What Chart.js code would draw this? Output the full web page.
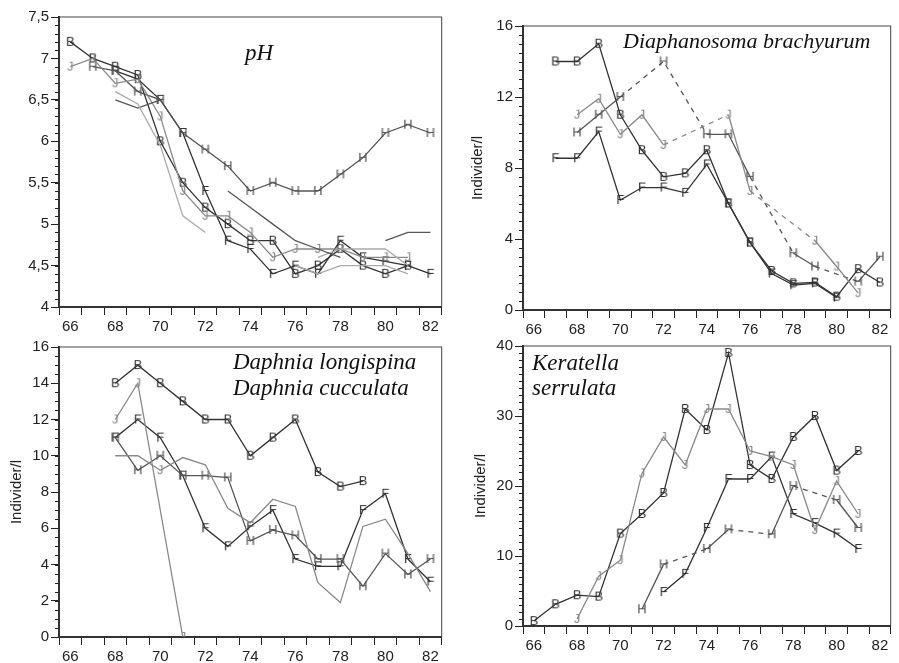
<!DOCTYPE html>
<html><head><meta charset="utf-8">
<script src="https://cdn.jsdelivr.net/npm/chart.js@4"></script>
<style>
body{margin:0;background:#fff;width:899px;height:663px;position:relative;overflow:hidden}
canvas{position:absolute}
.t{position:absolute;font-family:"Liberation Serif","Times New Roman",serif;font-style:italic;color:#111;white-space:nowrap}
</style></head><body>
<canvas id="c1" width="450" height="340" style="left:0;top:0"></canvas>
<canvas id="c2" width="449" height="340" style="left:450px;top:0"></canvas>
<canvas id="c3" width="450" height="328" style="left:0;top:335px"></canvas>
<canvas id="c4" width="449" height="328" style="left:450px;top:335px"></canvas>
<div class="t" style="left:245px;top:41px;font-size:23px;line-height:23px">pH</div>
<div class="t" style="left:623px;top:30px;font-size:22px;line-height:22px">Diaphanosoma brachyurum</div>
<div class="t" style="left:233px;top:349px;font-size:23px;line-height:26px">Daphnia longispina<br>Daphnia cucculata</div>
<div class="t" style="left:532px;top:350px;font-size:23px;line-height:25px">Keratella<br>serrulata</div>
<script>
// years 66..82, one value per year (null = no sample)
const years=[66,67,68,69,70,71,72,73,74,75,76,77,78,79,80,81,82];

// pH
const phB=[7.2,7.0,6.9,6.8,6.0,5.5,5.2,5.0,4.8,4.8,4.4,4.5,4.7,4.5,4.4,4.5,null];
const phF=[null,null,6.85,6.75,6.5,6.1,5.4,4.8,4.7,4.4,4.5,4.4,4.8,4.6,4.55,4.5,4.4];
const phH=[null,6.9,6.85,6.6,6.5,6.1,5.9,5.7,5.4,5.5,5.4,5.4,5.6,5.8,6.1,6.2,6.1];
const phJ=[6.9,7.0,6.7,6.75,6.3,5.4,5.1,5.1,4.9,4.6,4.7,4.7,4.7,4.6,4.6,4.6,null];
const phG1=[null,null,6.6,6.45,5.95,5.1,4.9,null,null,null,null,null,null,null,null,null,null];
const phG2=[null,null,6.5,6.4,6.5,null,null,null,null,null,null,null,null,null,null,null,null];
const phG3=[null,null,null,null,null,null,null,5.4,5.2,5.0,4.8,4.7,4.6,null,null,null,null];
const phG4=[null,null,null,null,null,null,null,null,null,null,null,null,null,null,4.8,4.9,4.9];
const phG5=[null,null,null,null,null,null,null,null,null,null,4.5,4.4,4.5,4.5,4.5,4.4,null];
const phG6=[null,null,null,null,null,null,null,null,null,null,null,4.6,4.7,4.7,4.7,4.5,null];

// Diaphanosoma brachyurum
const diB=[null,14,14,15,11,9,7.5,7.7,9,6,3.8,2.2,1.5,1.55,0.75,2.3,1.55];
const diF=[null,8.55,8.55,10.05,6.2,6.9,6.9,6.6,8.2,6.0,3.8,2.05,1.4,1.5,0.7,null,null];
const diH=[null,null,10,11,12,null,14,null,9.9,9.9,7.5,null,3.2,2.45,null,1.6,3.0];
const diJ=[null,null,11,11.9,9.9,11,9.3,null,null,11,6.7,null,null,3.9,2.45,0.95,null];

// Daphnia longispina / cucculata
const daB=[null,null,14,15,14,13,12,12,10,11,12,9.1,8.3,8.6,null,null,null];
const daJ=[null,null,12,14,null,0,null,null,null,null,null,null,null,null,null,null,null];
const daG=[null,null,10,10,9.2,9.9,9.5,7.1,6.3,7.6,7.2,3.0,1.9,6.1,6.5,4.6,2.5];
const daF=[null,null,11,12,11,8.9,6.0,5.0,6.1,7.0,4.3,3.9,3.9,7.0,7.9,4.3,3.05];
const daH=[null,null,11,9.2,10,8.9,8.9,8.8,5.3,5.9,5.6,4.3,4.3,2.8,4.6,3.45,4.3];

// Keratella serrulata
const keB=[0.7,3.1,4.4,4.2,13.2,16,19,31,28,39,23,21,27,30,22.2,25,null];
const keJ=[null,null,1.0,7.1,9.4,21.8,27,23,31,31,25,24.2,23,13.7,20.7,16,null];
const keF=[null,null,null,null,null,null,4.85,7.45,14,21,21,24.2,16,14.7,13.2,11,null];
const keH=[null,null,null,null,null,2.4,8.8,null,11,13.8,null,13.1,20,null,18,14,null];

Chart.defaults.font.family='"Liberation Sans", Arial, sans-serif';
Chart.defaults.font.size=15;
Chart.defaults.color='#222';

function pts(arr){ return years.map((x,i)=>({x,y:arr[i]})).filter(p=>p.y!=null); }

function letter(ch,color){
  const c=document.createElement('canvas'); c.width=14; c.height=14;
  const g=c.getContext('2d');
  g.font='13px "Liberation Sans", Arial';
  g.fillStyle=color; g.textAlign='center'; g.textBaseline='middle';
  g.fillText(ch,7,7.5);
  return c;
}

const gapDash={borderDash:ctx=>(ctx.p1.parsed.x-ctx.p0.parsed.x>1.5?[5,5]:undefined)};

function line(arr,color,mark,dashGaps){
  const ds={data:pts(arr),borderColor:color,borderWidth:1.3,tension:0,
    pointStyle:mark?letter(mark,color):'circle',pointRadius:mark?7:0};
  if(dashGaps) ds.segment=gapDash;
  return ds;
}

// box round the plot and the short minor ticks on the y axis
const frame={id:'frame',afterDraw(ch,args,o){
  const a=ch.chartArea,g=ch.ctx,y=ch.scales.y;
  g.save(); g.strokeStyle='#444'; g.lineWidth=1;
  g.strokeRect(a.left,a.top,a.right-a.left,a.bottom-a.top);
  g.beginPath(); g.strokeStyle='#222';
  const n=Math.round((y.max-y.min)/o.minor);
  for(let k=0;k<=n;k++){
    const py=Math.round(y.getPixelForValue(y.min+k*o.minor))+0.5;
    g.moveTo(a.left-4,py); g.lineTo(a.left,py);
  }
  g.stroke(); g.restore();
}};

function make(id,datasets,y,pad,yw,xh,title){
  return new Chart(document.getElementById(id),{
    type:'line',
    data:{datasets},
    options:{
      responsive:false,animation:false,devicePixelRatio:1,
      layout:{padding:pad},
      plugins:{legend:{display:false},tooltip:{enabled:false},frame:{minor:y.minor}},
      scales:{
        x:{type:'linear',min:65.5,max:82.5,
          afterFit:s=>{s.height=xh;},
          ticks:{stepSize:0.5,autoSkip:false,maxRotation:0,padding:3,
            callback:v=>(Number.isInteger(v)&&v%2===0)?String(v):''},
          grid:{drawOnChartArea:false,tickLength:8,
            tickColor:c=>(Number.isInteger(c.tick.value)?'rgba(0,0,0,0)':'#222')},
          border:{color:'#222',width:2}},
        y:{min:y.min,max:y.max,
          afterFit:s=>{s.width=yw;},
          ticks:{stepSize:y.step,autoSkip:false,padding:2,
            callback:v=>String(v).replace('.',',')},
          grid:{drawOnChartArea:false,tickLength:8,tickColor:'#222'},
          border:{color:'#222',width:2},
          title:{display:!!title,text:title,font:{size:15},padding:{top:4,bottom:4}}}
      }
    },
    plugins:[frame]
  });
}

const dark='#333', mid='#555', gray='#888', light='#aaa';

make('c1',[
  line(phG1,light), line(phG2,mid), line(phG3,mid), line(phG4,mid), line(phG5,light), line(phG6,light),
  line(phJ,gray,'J'), line(phH,mid,'H'), line(phF,dark,'F'), line(phB,dark,'B')
],{min:4,max:7.5,step:0.5,minor:0.1},{left:0,top:17,right:5,bottom:0},59,33,'');

make('c2',[
  line(diJ,gray,'J',true), line(diH,mid,'H',true), line(diF,dark,'F'), line(diB,dark,'B')
],{min:0,max:16,step:4,minor:0.5},{left:15,top:26,right:2,bottom:0},58,30,'Individer/l');

const daGray=line(daG,gray);
daGray.pointStyle=letter('J',gray); daGray.pointRadius=daGray.data.map(p=>p.x===70?7:0);
make('c3',[
  daGray, line(daJ,gray,'J'), line(daH,mid,'H'), line(daF,dark,'F'), line(daB,dark,'B')
],{min:0,max:16,step:2,minor:0.5},{left:4,top:12,right:5,bottom:0},55,26,'Individer/l');

make('c4',[
  line(keJ,gray,'J'), line(keH,mid,'H',true), line(keF,dark,'F'), line(keB,dark,'B')
],{min:0,max:40,step:10,minor:1},{left:18,top:8,right:2,bottom:0},55,37,'Individer/l');
</script>
</body></html>
